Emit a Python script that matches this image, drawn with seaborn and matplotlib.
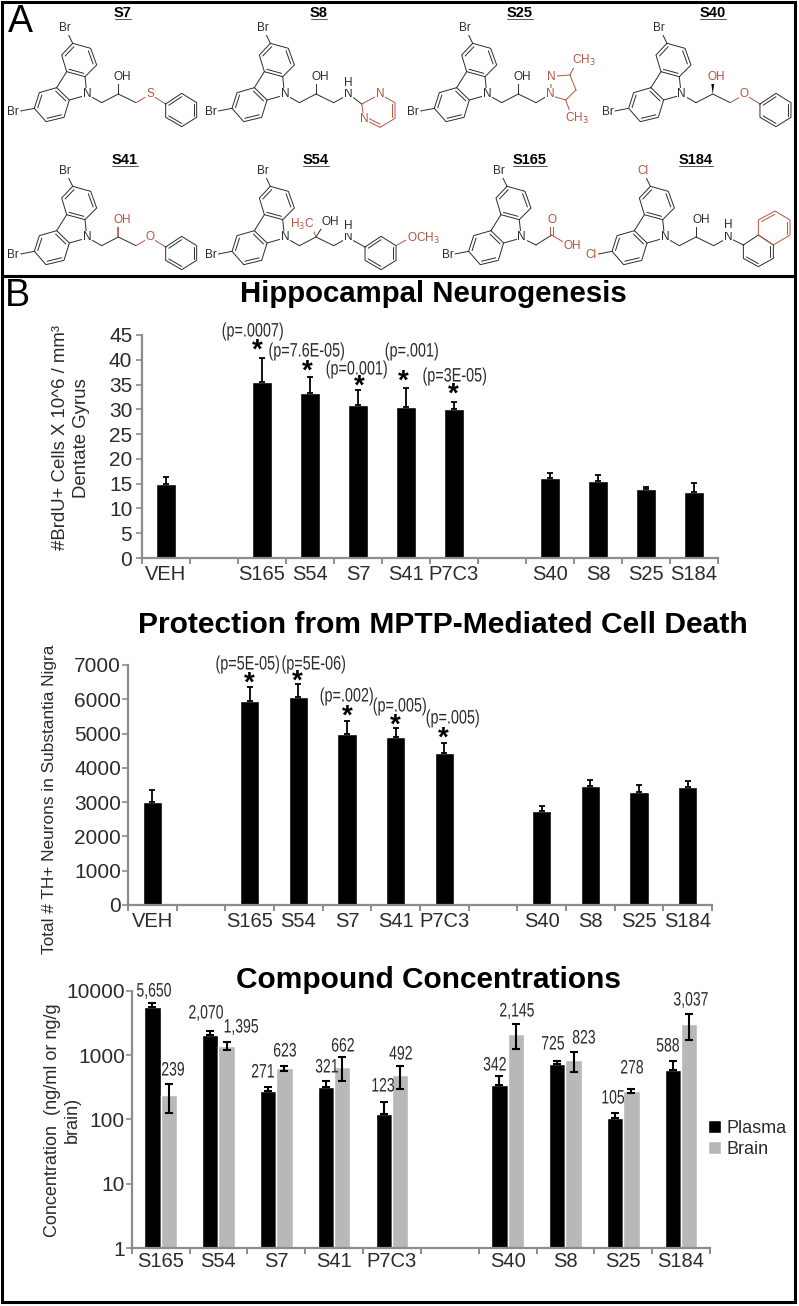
import numpy as np
import pandas as pd
import seaborn as sns
import matplotlib.pyplot as plt
from matplotlib.patches import Rectangle, Polygon
from matplotlib.patheffects import AbstractPathEffect
from matplotlib.ticker import FixedLocator, NullFormatter
from matplotlib.transforms import Affine2D

W, H = 799, 1306

# bar chart data
groups = ["S165", "S54", "S7", "S41", "P7C3", "S40", "S8", "S25", "S184"]
neuro_groups = ["VEH"] + groups
neuro_order = ["VEH", " ", "S165", "S54", "S7", "S41", "P7C3", "  ", "S40", "S8", "S25", "S184"]
conc_order = ["S165", "S54", "S7", "S41", "P7C3", " ", "S40", "S8", "S25", "S184"]

brdu = [15, 35.5, 33.2, 30.8, 30.5, 30, 16.2, 15.6, 14, 13.4]
brdu_top = [16.4, 40.4, 36.6, 34, 34.3, 31.5, 17.2, 16.7, 14.3, 15.2]
th = [3000, 5950, 6070, 4980, 4900, 4440, 2750, 3470, 3300, 3430]
th_top = [3350, 6350, 6450, 5370, 5150, 4720, 2900, 3650, 3500, 3620]

plasma = [5650, 2070, 271, 321, 123, 342, 725, 105, 588]
plasma_top = [6350, 2360, 317, 392, 187, 472, 797, 124, 811]
brain = [239, 1395, 623, 662, 492, 2145, 823, 278, 3037]
brain_top = [354, 1604, 680, 936, 687, 3060, 1120, 295, 4390]
brain_low = [125, 1210, 570, 392, 298, 1240, 535, 259, 1732]

brdu_notes = ["(p=.0007)", "(p=7.6E-05)", "(p=0.001)", "(p=.001)", "(p=3E-05)"]
th_notes = ["(p=5E-05)", "(p=5E-06)", "(p=.002)", "(p=.005)", "(p=.005)"]

RED = "#b5533f"
INK = "#2b2b2b"
AXIS = "#8c8c8c"


class Squeeze(AbstractPathEffect):
    # condensed look of the figure's small labels, no narrow font is installed
    def __init__(self, sx):
        super().__init__()
        self.sx = sx

    def draw_path(self, renderer, gc, tpath, affine, rgbFace=None):
        ext = tpath.get_extents()
        cx = (ext.x0 + ext.x1) / 2
        squeeze = Affine2D().translate(-cx, 0).scale(self.sx, 1).translate(cx, 0)
        renderer.draw_path(gc, tpath, squeeze + affine, rgbFace)


sns.set_theme(style="white")
plt.rcParams["font.family"] = ["Liberation Sans", "DejaVu Sans"]
fig = plt.figure(figsize=(W / 100, H / 100), dpi=100)


def make_axes(left, right, top, bottom):
    return fig.add_axes([left / W, 1 - bottom / H, (right - left) / W, (bottom - top) / H])


def style_axes(ax, n, yticks):
    sns.despine(ax=ax)
    for s in ["left", "bottom"]:
        ax.spines[s].set_color(AXIS)
        ax.spines[s].set_linewidth(1.6)
    ax.set_xlim(-0.5, n - 0.5)
    ax.set_xlabel("")
    ax.set_ylabel("")
    ax.xaxis.set_minor_locator(FixedLocator(np.arange(n + 1) - 0.5))
    ax.xaxis.set_minor_formatter(NullFormatter())
    ax.tick_params(axis="x", which="major", length=0, labelsize=14.5, labelcolor=INK, pad=5)
    ax.tick_params(axis="x", which="minor", bottom=True, length=4, width=1.4, color=AXIS)
    ax.tick_params(axis="y", which="major", left=True, length=4, width=1.2, color=AXIS,
                   labelsize=15, labelcolor=INK, pad=1)
    ax.tick_params(axis="y", which="minor", left=False)
    ax.set_yticks(yticks)


def single_bars(ax, values, tops):
    df = pd.DataFrame({"group": neuro_groups, "value": values})
    sns.barplot(data=df, x="group", y="value", order=neuro_order, color="black",
                saturation=1, width=0.4, errorbar=None, ax=ax)
    xs = [p.get_x() + p.get_width() / 2 for p in ax.containers[0]]
    up = np.array(tops) - np.array(values)
    ax.errorbar(xs, values, yerr=[np.zeros(len(up)), up], fmt="none", ecolor="black",
                elinewidth=1.3, capsize=2.3, capthick=1.3)


# Neurogenesis
ax1 = make_axes(142, 718, 335, 558)
single_bars(ax1, brdu, brdu_top)
style_axes(ax1, 12, np.arange(0, 46, 5))
ax1.tick_params(axis="y", pad=3)
ax1.set_ylim(0, 45)

# MPTP
ax2 = make_axes(128, 712, 665, 905)
single_bars(ax2, th, th_top)
style_axes(ax2, 12, np.arange(0, 7001, 1000))
ax2.set_ylim(0, 7000)

# Concentrations
ax3 = make_axes(131.7, 710, 990.7, 1248)
conc = pd.DataFrame({
    "group": groups * 2,
    "value": plasma + brain,
    "kind": ["Plasma"] * len(groups) + ["Brain"] * len(groups),
})
sns.barplot(data=conc, x="group", y="value", hue="kind", order=conc_order,
            hue_order=["Plasma", "Brain"], palette=["black", "#b8b8b8"], saturation=1,
            width=0.566, gap=0, errorbar=None, ax=ax3)
ax3.set_yscale("log")
xs_p = [p.get_x() + p.get_width() / 2 for p in ax3.containers[0]]
xs_b = [p.get_x() + p.get_width() / 2 for p in ax3.containers[1]]
ax3.errorbar(xs_p, plasma, yerr=[np.zeros(9), np.array(plasma_top) - np.array(plasma)],
             fmt="none", ecolor="black", elinewidth=1.5, capsize=2.6, capthick=1.5)
ax3.errorbar(xs_b, brain, yerr=[np.array(brain) - np.array(brain_low), np.array(brain_top) - np.array(brain)],
             fmt="none", ecolor="black", elinewidth=1.5, capsize=2.6, capthick=1.5)
style_axes(ax3, 10, [1, 10, 100, 1000, 10000])
ax3.set_yticklabels(["1", "10", "100", "1000", "10000"])
ax3.tick_params(axis="x", which="major", pad=3)
ax3.set_ylim(1, 10000)
handles, labels = ax3.get_legend_handles_labels()
ax3.legend(handles, labels, loc="upper left", bbox_to_anchor=(708 / W, 1 - 1120 / H),
           bbox_transform=fig.transFigure, frameon=False, fontsize=13, labelcolor=INK,
           handlelength=0.7, handleheight=0.7, handletextpad=0.35, labelspacing=0.2,
           borderpad=0, borderaxespad=0)

# overlay in pixel coordinates for panel A, frames and notes
ov = fig.add_axes([0, 0, 1, 1], zorder=5)
ov.set_xlim(0, W)
ov.set_ylim(H, 0)
ov.axis("off")
ov.patch.set_alpha(0)

ov.add_patch(Rectangle((2, 2), 793, 274, fill=False, ec="black", lw=2.2))
ov.add_patch(Rectangle((2, 276), 793, 1026, fill=False, ec="black", lw=2.2))
ov.text(8, 22, "A", fontsize=27, va="center", color="black")
ov.text(5, 296, "B", fontsize=27, va="center", color="black")

ov.text(433, 302, "Hippocampal Neurogenesis", fontsize=21.2, fontweight="bold", ha="center", va="baseline", color="black")
ov.text(443, 633, "Protection from MPTP-Mediated Cell Death", fontsize=21.6, fontweight="bold", ha="center", va="baseline", color="black")
ov.text(428, 988, "Compound Concentrations", fontsize=21.5, fontweight="bold", ha="center", va="baseline", color="black")

ov.text(71, 438, "#BrdU+ Cells X 10^6 / mm³\nDentate Gyrus", fontsize=13.4, rotation=90, ha="center", va="center", color=INK, linespacing=1.25)
ov.text(50, 799, "Total # TH+ Neurons in Substantia Nigra", fontsize=12.4, rotation=90, ha="center", va="center", color=INK)
ov.text(62, 1120, "Concentration  (ng/ml or ng/g\nbrain)", fontsize=13, rotation=90, ha="center", va="center", color=INK, linespacing=1.2)

note_xy1 = [(253, 332), (307, 352), (357, 370), (412, 352), (455, 377)]
star_xy1 = [(257, 347), (307, 368), (359, 383), (403, 378), (453, 391)]
note_xy2 = [(248, 665), (314, 665), (347, 697), (400, 707), (453, 719)]
star_xy2 = [(249, 680), (297, 678), (347, 713), (395, 722), (443, 735)]
for txt, (x, y) in zip(brdu_notes + th_notes, note_xy1 + note_xy2):
    ov.text(x, y, txt, fontsize=14, ha="center", va="center", color=INK, path_effects=[Squeeze(0.74)])
for x, y in star_xy1 + star_xy2:
    ov.text(x, y + 4, "*", fontsize=20, fontweight="bold", ha="center", va="center", color="black")

value_xy = [(154, 992), (206, 1014), (263, 1073), (327, 1068), (383, 1087), (495, 1066), (553, 1045), (613, 1099), (668, 1047),
            (173, 1071), (241, 1028), (285, 1052), (343, 1047), (401, 1055), (517, 1012), (584, 1039), (632, 1069), (691, 1001)]
for v, (x, y) in zip(plasma + brain, value_xy):
    ov.text(x, y, f"{v:,}", fontsize=14, ha="center", va="center", color=INK, path_effects=[Squeeze(0.72)])


def draw_ring(pts, doubles, dx, dy, color=INK):
    pts = np.array(pts, dtype=float)
    c = pts.mean(axis=0)
    closed = np.vstack([pts, pts[0]])
    ov.plot(closed[:, 0] / 3 + dx, closed[:, 1] / 3 + dy, color=color, lw=0.7)
    for i in doubles:
        a = c + (pts[i] - c) * 0.8
        b = c + (pts[(i + 1) % len(pts)] - c) * 0.8
        ov.plot([a[0] / 3 + dx, b[0] / 3 + dx], [a[1] / 3 + dy, b[1] / 3 + dy], color=color, lw=0.7)


def bond(p, q, dx, dy, color=INK, lw=0.7):
    ov.plot([p[0] / 3 + dx, q[0] / 3 + dx], [p[1] / 3 + dy, q[1] / 3 + dy], color=color, lw=lw)


def atom(x, y, s, dx, dy, color=INK):
    ov.text(x / 3 + dx, y / 3 + dy, s, fontsize=8.5, ha="center", va="center", color=color, zorder=4,
            bbox=dict(fc="white", ec="none", pad=0.4))


def core(dx, dy, halo="Br", color=INK):
    draw_ring([(218, 130), (272, 145), (290, 195), (255, 230), (200, 215), (185, 165)], [1, 3, 5], dx, dy)
    draw_ring([(170, 263), (208, 300), (192, 352), (138, 365), (103, 325), (118, 278)], [0, 2, 4], dx, dy)
    bond((200, 215), (170, 263), dx, dy)
    bond((255, 230), (259, 268), dx, dy)
    bond((208, 300), (247, 289), dx, dy)
    bond((218, 130), (205, 103), dx, dy)
    bond((103, 325), (62, 333), dx, dy)
    atom(195, 85, halo, dx, dy, color)
    atom(40, 335, halo, dx, dy, color)
    atom(262, 283, "N", dx, dy)


def chain(dx, dy):
    bond((277, 292), (305, 308), dx, dy)
    bond((305, 308), (355, 282), dx, dy)
    bond((355, 282), (408, 308), dx, dy)


PHENYL = [(497, 312), (545, 280), (590, 308), (590, 352), (545, 380), (497, 352)]


def phenoxy(dx, dy):
    bond((408, 308), (435, 292), dx, dy, RED)
    atom(450, 283, "O", dx, dy, RED)
    bond((465, 292), (497, 312), dx, dy, RED)
    draw_ring(PHENYL, [0, 2, 4], dx, dy)


# S7
core(0, 0); chain(0, 0)
bond((355, 282), (355, 250), 0, 0); atom(368, 232, "OH", 0, 0)
bond((408, 308), (435, 292), 0, 0, RED); atom(450, 283, "S", 0, 0, RED); bond((465, 292), (497, 312), 0, 0, RED)
draw_ring(PHENYL, [0, 2, 4], 0, 0)
# S8
d = 197.7
core(d, 0); chain(d, 0)
bond((355, 282), (355, 250), d, 0); atom(368, 232, "OH", d, 0)
bond((408, 308), (437, 292), d, 0); atom(452, 283, "N", d, 0); atom(452, 248, "H", d, 0)
bond((467, 293), (492, 312), d, 0)
draw_ring([(492, 312), (547, 283), (592, 308), (592, 355), (547, 382), (499, 358)], [2, 4], d, 0, RED)
atom(547, 283, "N", d, 0, RED); atom(499, 358, "N", d, 0, RED)
# S25
d = 400
core(d, 0); chain(d, 0)
bond((355, 282), (355, 250), d, 0); atom(368, 232, "OH", d, 0)
bond((408, 308), (435, 292), d, 0)
atom(450, 283, "N", d, 0, RED); atom(455, 232, "N", d, 0, RED)
bond((452, 268), (454, 247), d, 0, RED)
bond((470, 228), (510, 225), d, 0, RED); bond((510, 225), (528, 270), d, 0, RED)
bond((528, 270), (497, 300), d, 0, RED); bond((497, 300), (463, 290), d, 0, RED)
bond((510, 225), (525, 195), d, 0, RED); bond((497, 300), (510, 335), d, 0, RED)
atom(552, 180, "CH$_3$", d, 0, RED); atom(530, 355, "CH$_3$", d, 0, RED)
# S40
d = 594.3
core(d, 0); chain(d, 0)
ov.add_patch(Polygon([(355 / 3 + d, 282 / 3), (351 / 3 + d, 250 / 3), (360 / 3 + d, 250 / 3)], color="black", lw=0))
atom(367, 232, "OH", d, 0, RED)
phenoxy(d, 0)
# S41
core(0, 143); chain(0, 143)
bond((355, 282), (355, 250), 0, 143, RED, 1.2); atom(368, 232, "OH", 0, 143, RED)
phenoxy(0, 143)
# S54
d = 197.7
core(d, 143); chain(d, 143)
bond((355, 282), (375, 250), d, 143); atom(399, 238, "OH", d, 143)
bond((355, 282), (345, 258), d, 143, RED); atom(312, 243, "H$_3$C", d, 143, RED)
bond((408, 308), (437, 292), d, 143); atom(452, 283, "N", d, 143); atom(452, 250, "H", d, 143)
bond((467, 293), (502, 312), d, 143)
draw_ring([(x + 5, y) for x, y in PHENYL], [0, 2, 4], d, 143)
bond((595, 308), (632, 287), d, 143, RED); atom(676, 286, "OCH$_3$", d, 143, RED)
# S165
d = 434.3
core(d, 143)
bond((277, 292), (305, 306), d, 143); bond((305, 306), (352, 276), d, 143)
bond((348, 276), (348, 245), d, 143, RED); bond((356, 276), (356, 245), d, 143, RED)
atom(352, 231, "O", d, 143, RED)
bond((352, 276), (392, 300), d, 143, RED); atom(415, 308, "OH", d, 143, RED)
# S184
d = 577.7
core(d, 143, "Cl", RED); chain(d, 143)
bond((355, 282), (355, 250), d, 143); atom(370, 231, "OH", d, 143)
bond((408, 308), (437, 292), d, 143); atom(452, 281, "N", d, 143); atom(452, 246, "H", d, 143)
bond((467, 291), (497, 306), d, 143)
draw_ring([(497, 306), (542, 276), (587, 306), (587, 346), (542, 371), (497, 346)], [2, 4], d, 143)
draw_ring([(542, 276), (542, 231), (592, 204), (637, 231), (637, 276), (587, 306)], [1, 3], d, 143, RED)

names = ["S7", "S8", "S25", "S40", "S41", "S54", "S165", "S184"]
name_xy = [(123, 13), (319, 13), (520, 13), (713, 13), (125, 160), (316, 160), (530, 160), (696, 160)]
for s, (x, y) in zip(names, name_xy):
    ov.text(x, y, s, fontsize=10.5, fontweight="bold", ha="center", va="center", color="black")
    half = 4.2 * len(s)
    ov.plot([x - half, x + half], [y + 6, y + 6], color="#555555", lw=0.7)

ov.set_xlim(0, W)
ov.set_ylim(H, 0)
fig.savefig("out.png", dpi=100)
